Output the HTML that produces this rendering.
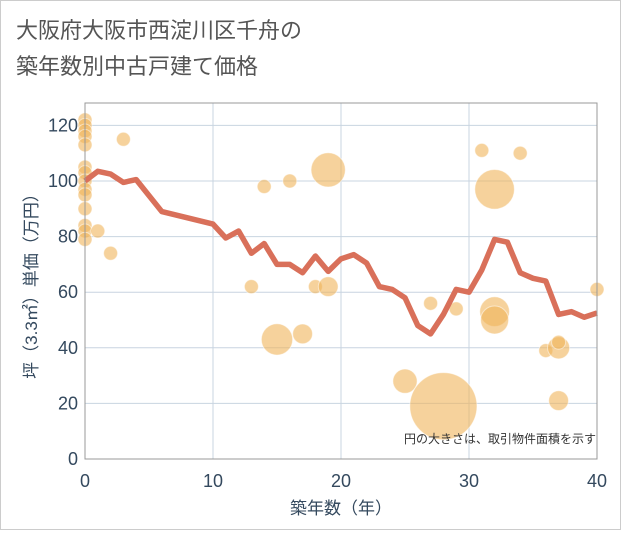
<!DOCTYPE html>
<html><head><meta charset="utf-8"><style>
body{margin:0;background:#fff;}
svg text{font-family:"Liberation Sans","Noto Sans CJK JP",sans-serif;}
</style></head><body>
<svg width="621" height="530" xmlns="http://www.w3.org/2000/svg">
<rect x="0.5" y="0.5" width="620" height="529" fill="#fff" stroke="#ccc"/>
<text x="16" y="38" font-size="22" fill="#555">大阪府大阪市西淀川区千舟の</text>
<text x="16" y="74" font-size="22" fill="#555">築年数別中古戸建て価格</text>
<g id="grid"></g>
<g id="bubbles"></g>
<g id="line"></g>
<rect x="85" y="103" width="512" height="356" fill="none" stroke="#999" stroke-width="1"/>
<g id="axes"></g>
<text x="596" y="443" font-size="12" fill="#333" text-anchor="end">円の大きさは、取引物件面積を示す</text>
<text x="341" y="514" font-size="17" fill="#34495e" text-anchor="middle">築年数（年）</text>
<text transform="translate(37,282) rotate(-90)" font-size="17" fill="#34495e" text-anchor="middle">坪（3.3㎡）単価（万円）</text>
</svg>
<script>
const xTicks=[0,10,20,30,40];
const yTicks=[0,20,40,60,80,100,120];
const lineX=[0,1,2,3,4,6,10,11,12,13,14,15,16,17,18,19,20,21,22,23,24,25,26,27,28,29,30,31,32,33,34,35,36,37,38,39,40];
const lineY=[100,103.5,102.5,99.5,100.5,89,84.5,79.5,82,74,77.5,70,70,67,73,67.5,72,73.5,70.5,62,61,58,48,45,52,61,60,68,79,78,67,65,64,52,53,51,52.5];
const bubX=[0,0,0,0,0,0,0,0,0,0,0,0,0,0,1,2,3,13,14,16,15,17,18,19,19,25,27,28,29,31,32,32,32,34,36,37,37,37,40];
const bubY=[122,120,118,116,113,105,103,100,97,95,90,84,82,79,82,74,115,62,98,100,43,45,62,62,104,28,56,19,54,111,97,53,50,110,39,40,42,21,61];
const bubS=[1,1,1,1,1,1,1,1,1,1,1,1,1,1,1,1,1,1,1,1,5,2,1,2,6,3,1,23,1,1,8,4.5,4,1,1,2.5,1,2,1];
const X=v=>85+v*12.8, Y=v=>459-v*2.78;
const NS="http://www.w3.org/2000/svg";
const grid=document.getElementById('grid'),axes=document.getElementById('axes');
xTicks.forEach(t=>{
 const l=document.createElementNS(NS,'line');
 
 
 l.setAttribute('x1',X(t));l.setAttribute('x2',X(t));l.setAttribute('y1',103);l.setAttribute('y2',459);
 l.setAttribute('stroke','#c8d4e0');grid.appendChild(l);
 const tx=document.createElementNS(NS,'text');
 
 
 tx.setAttribute('x',X(t));tx.setAttribute('y',487);tx.setAttribute('font-size','18');tx.setAttribute('fill','#34495e');tx.setAttribute('text-anchor','middle');
 tx.textContent=t;axes.appendChild(tx);
});
yTicks.forEach(t=>{
 const l=document.createElementNS(NS,'line');
 
 
 l.setAttribute('x1',85);l.setAttribute('x2',597);l.setAttribute('y1',Y(t));l.setAttribute('y2',Y(t));
 l.setAttribute('stroke','#c8d4e0');grid.appendChild(l);
 const tx=document.createElementNS(NS,'text');
 
 
 tx.setAttribute('x',78);tx.setAttribute('y',Y(t)+6);tx.setAttribute('font-size','18');tx.setAttribute('fill','#34495e');tx.setAttribute('text-anchor','end');
 tx.textContent=t;axes.appendChild(tx);
});
const bg=document.getElementById('bubbles');
bubX.forEach((x,i)=>{
 const c=document.createElementNS(NS,'circle');
 
 
 c.setAttribute('cx',X(x));c.setAttribute('cy',Y(bubY[i]));c.setAttribute('r',7*Math.sqrt(bubS[i]));
 c.setAttribute('fill','rgba(240,180,90,0.6)');c.setAttribute('stroke','rgba(255,255,255,0.5)');
 bg.appendChild(c);
});
const p=document.createElementNS(NS,'polyline');


p.setAttribute('points',lineX.map((x,i)=>X(x)+','+Y(lineY[i])).join(' '));
p.setAttribute('fill','none');p.setAttribute('stroke','#d9705a');p.setAttribute('stroke-width','5.5');p.setAttribute('stroke-linejoin','round');
document.getElementById('line').appendChild(p);
</script>
</body></html>
